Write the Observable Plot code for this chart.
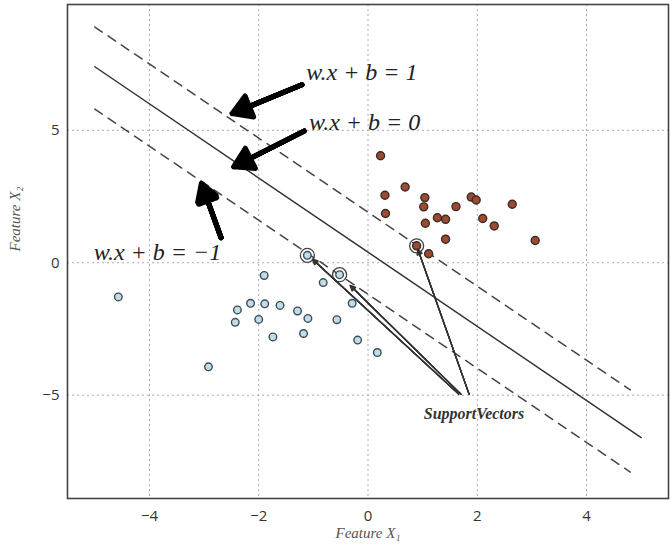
<!DOCTYPE html>
<html>
<head>
<meta charset="utf-8">
<script src="https://cdn.jsdelivr.net/npm/d3@7"></script>
<script src="https://cdn.jsdelivr.net/npm/@observablehq/plot@0.6"></script>
<style>
  html, body { margin: 0; padding: 0; background: #fff; }
</style>
</head>
<body>
<div id="chart"></div>
<script>
// ---- data ----
const xTicks = [-4, -2, 0, 2, 4];
const yTicks = [-5, 0, 5];

// class +1 (red/brown)
const redX = [0.23, 0.68, 0.31, 1.04, 1.02, 1.61, 1.89, 1.98, 2.64, 0.32, 1.27, 1.42, 1.05, 2.10, 2.31, 1.42, 3.06, 0.89, 1.11];
const redY = [4.04, 2.86, 2.55, 2.46, 2.11, 2.12, 2.48, 2.37, 2.21, 1.86, 1.70, 1.64, 1.49, 1.67, 1.39, 0.89, 0.84, 0.64, 0.34];

// class -1 (blue)
const blueX = [-4.57, -1.90, -1.11, -0.52, -0.82, -0.29, -2.15, -1.89, -1.61, -2.39, -1.29, -1.10, -2.00, -2.43, -0.57, -1.18, -1.74, -0.19, 0.17, -2.92];
const blueY = [-1.29, -0.48, 0.28, -0.45, -0.75, -1.53, -1.53, -1.55, -1.61, -1.78, -1.82, -2.10, -2.14, -2.25, -2.15, -2.67, -2.80, -2.92, -3.39, -3.93];

// support vectors
const svX = [-1.11, -0.52, 0.89];
const svY = [0.28, -0.45, 0.64];

// hyperplane lines (endpoints)
const lineName = ["zero", "zero", "plus", "plus", "minus", "minus"];
const lineX = [-5, 5, -5, 4.8, -5, 4.8];
const lineY = [7.4, -6.6, 8.9, -4.8, 5.8, -7.9];

// equation labels
const eqText = ["w.x + b = 1", "w.x + b = 0", "w.x + b = −1"];
const eqX = [-1.13, -1.08, -5.02];
const eqY = [7.2, 5.31, 0.39];

// thick arrows to margins
const bigX1 = [-1.21, -1.17, -2.69];
const bigY1 = [6.72, 4.97, 0.95];
const bigX2 = [-2.49, -2.46, -3.05];
const bigY2 = [5.63, 3.62, 3.0];

// thin arrows from "Support Vectors"
const svLabel = "SupportVectors";
const svLabelX = 1.94, svLabelY = -5.71;
const thinX1 = [1.66, 1.70, 1.85];
const thinY1 = [-4.96, -4.96, -4.96];
const thinX2 = [-1.02, -0.33, 0.91];
const thinY2 = [0.14, -0.85, 0.52];

// stacked, stepped-back arrowheads to build solid heads
const bigInsets = [0, 3, 6, 9, 12, 15];
const bigHeads = [6.6, 5.55, 4.5, 3.45, 2.4, 1.35];
const thinInsets = [0, 1, 2, 3, 4];
const thinHeads = [7, 5.8, 4.5, 3.2, 2.0];

// ---- build tables ----
const red = redX.map((x, i) => ({x, y: redY[i]}));
const blue = blueX.map((x, i) => ({x, y: blueY[i]}));
const sv = svX.map((x, i) => ({x, y: svY[i]}));
const lines = lineX.map((x, i) => ({name: lineName[i], x, y: lineY[i]}));
const eqs = eqText.map((t, i) => ({t, x: eqX[i], y: eqY[i]}));
const big = bigX1.map((x1, i) => ({x1, y1: bigY1[i], x2: bigX2[i], y2: bigY2[i]}));
const thin = thinX1.map((x1, i) => ({x1, y1: thinY1[i], x2: thinX2[i], y2: thinY2[i]}));

const serif = "'Liberation Serif', 'DejaVu Serif', serif";

const chart = Plot.plot({
  width: 672,
  height: 545,
  marginLeft: 67,
  marginRight: 4,
  marginTop: 4,
  marginBottom: 47,
  style: {fontFamily: "'Open Sans', sans-serif", fontSize: "15px", color: "#333", background: "#fff"},
  x: {domain: [-5.5, 5.5], ticks: xTicks, tickSize: 0, tickPadding: 12, label: null},
  y: {domain: [-8.9, 9.75], ticks: yTicks, tickSize: 0, tickPadding: 8, label: null},
  marks: [
    Plot.ruleX(xTicks, {stroke: "#aaa", strokeDasharray: "2,3", strokeWidth: 1}),
    Plot.ruleY(yTicks, {stroke: "#aaa", strokeDasharray: "2,3", strokeWidth: 1}),
    Plot.line(lines.filter(d => d.name === "zero"), {x: "x", y: "y", stroke: "#333", strokeWidth: 1.5}),
    Plot.line(lines.filter(d => d.name === "plus"), {x: "x", y: "y", stroke: "#444", strokeWidth: 1.5, strokeDasharray: "9,7"}),
    Plot.line(lines.filter(d => d.name === "minus"), {x: "x", y: "y", stroke: "#444", strokeWidth: 1.5, strokeDasharray: "9,7"}),
    Plot.dot(sv, {x: "x", y: "y", r: 7, stroke: "#444", strokeWidth: 1.3, fill: "none"}),
    Plot.dot(red, {x: "x", y: "y", r: 4, fill: "#9c4a30", stroke: "#3a2c26", strokeWidth: 1.4}),
    Plot.dot(blue, {x: "x", y: "y", r: 3.8, fill: "#bfdde9", stroke: "#3e4b55", strokeWidth: 1.4}),
    ...thinHeads.map((h, k) => Plot.arrow(thin, {x1: "x1", y1: "y1", x2: "x2", y2: "y2", stroke: "#333", strokeWidth: 1.3, headLength: h, headAngle: 50, insetEnd: thinInsets[k]})),
    ...bigHeads.map((h, k) => Plot.arrow(big, {x1: "x1", y1: "y1", x2: "x2", y2: "y2", stroke: "#000", strokeWidth: 5, headLength: h, headAngle: 62, insetEnd: bigInsets[k]})),
    Plot.text(eqs, {x: "x", y: "y", text: "t", textAnchor: "start", fontFamily: serif, fontStyle: "italic", fontSize: 24, fill: "#222"}),
    Plot.text([svLabel], {x: () => svLabelX, y: () => svLabelY, text: d => d, fontFamily: serif, fontStyle: "italic", fontWeight: "bold", fontSize: 16, fill: "#333"}),
    Plot.text(["Feature X₁"], {frameAnchor: "bottom", text: d => d, dy: 39, fontFamily: serif, fontStyle: "italic", fontSize: 15, fill: "#555"}),
    Plot.text(["Feature X₂"], {frameAnchor: "left", text: d => d, dx: -52, rotate: -90, fontFamily: serif, fontStyle: "italic", fontSize: 15, fill: "#555"}),
    Plot.frame({stroke: "#444", strokeWidth: 1.6})
  ]
});
document.getElementById("chart").appendChild(chart);
</script>
</body>
</html>
